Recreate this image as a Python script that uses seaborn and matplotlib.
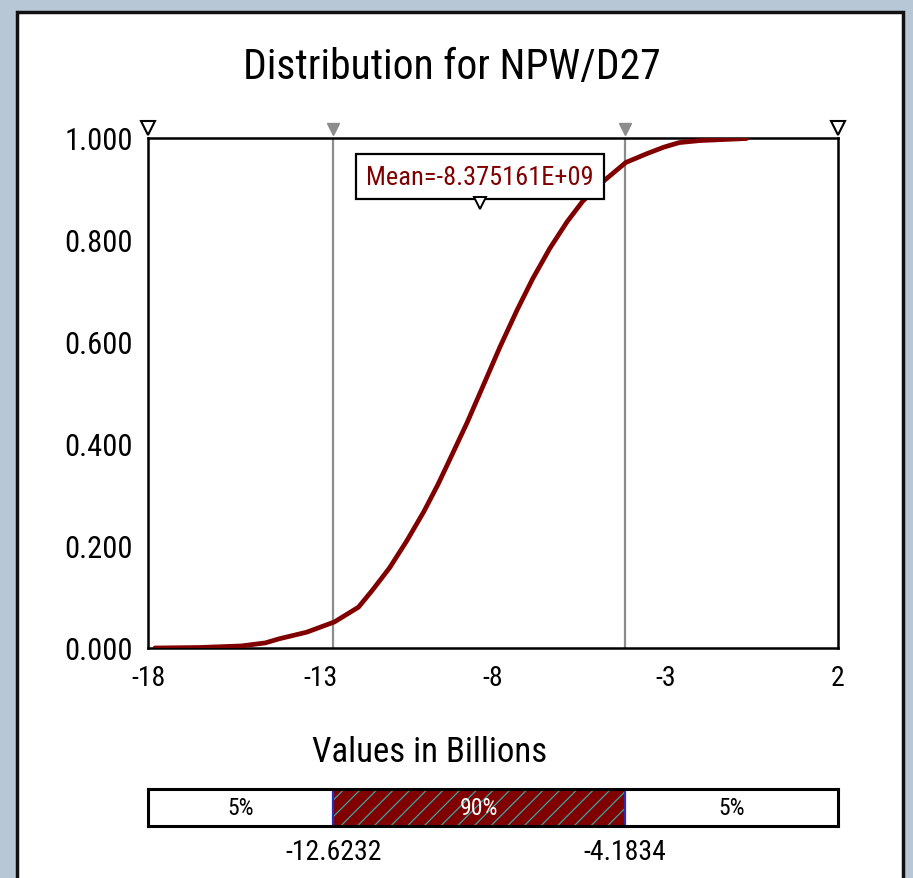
import matplotlib
matplotlib.use("Agg")
import matplotlib.pyplot as plt
from matplotlib import font_manager as fm
from matplotlib.patches import Rectangle
import pandas as pd
import seaborn as sns

# Cumulative distribution of NPW/D27 (values in billions)
npw_values = [-17.8, -16.5, -15.3, -14.6, -14.2, -13.4, -12.6, -11.9, -11.5, -11.0,
              -10.5, -10.0, -9.6, -9.25, -8.75, -8.3, -7.8, -7.3, -6.85, -6.35,
              -5.85, -5.4, -4.75, -4.15, -3.55, -3.05, -2.6, -2.0, -0.65]
cum_prob = [0.000, 0.001, 0.004, 0.010, 0.018, 0.031, 0.051, 0.080, 0.113, 0.157,
            0.210, 0.268, 0.320, 0.370, 0.442, 0.512, 0.590, 0.663, 0.724, 0.784,
            0.836, 0.876, 0.918, 0.952, 0.969, 0.982, 0.991, 0.995, 0.999]

mean_value = -8.375161            # billions
mean_label = "Mean=-8.375161E+09"
p5, p95 = -12.6232, -4.1834
band_pcts = [5, 90, 5]
x_range = [-18, 2]
x_ticks = [-18, -13, -8, -3, 2]
y_ticks = [0.0, 0.2, 0.4, 0.6, 0.8, 1.0]

title = "Distribution for NPW/D27"
x_title = "Values in Billions"

sns.set_style("white")


def pick_narrow_font():
    """Return (family, stretch, found) for the narrowest sans face available."""
    entries = fm.fontManager.ttflist
    prefs = ["Liberation Sans Narrow", "Roboto Condensed", "Open Sans Condensed",
             "DejaVu Sans Condensed", "Noto Sans Condensed", "Arial Narrow"]
    for p in prefs:
        for e in entries:
            if e.name == p and e.style == "normal":
                return e.name, e.stretch, True
    for e in entries:
        st = str(e.stretch)
        if e.style == "normal" and ("condensed" in st or st in ("75", "62.5", "87.5", "50")):
            if "Sans" in e.name or "Roboto" in e.name or "Lato" in e.name:
                return e.name, e.stretch, True
    return "Liberation Sans", "normal", False


family, stretch, narrow = pick_narrow_font()
plt.rcParams["font.family"] = [family, "DejaVu Sans"]
plt.rcParams["font.stretch"] = stretch
plt.rcParams["text.color"] = "black"
plt.rcParams["xtick.color"] = "black"
plt.rcParams["ytick.color"] = "black"
plt.rcParams["hatch.linewidth"] = 0.9
k = 1.0 if narrow else 0.86   # shrink sizes when only a normal-width face exists

DARK_RED = "#800000"
W, H = 913, 879
fig = plt.figure(figsize=(W / 100, H / 100), dpi=100)
fig.patch.set_facecolor("#b8c7d6")

# white panel with dark frame
fig.add_artist(Rectangle((17 / W, -0.02), (903 - 17) / W, (879 - 13) / H + 0.02,
                         transform=fig.transFigure, facecolor="white",
                         edgecolor="#111111", lw=2.5, zorder=0))

ax = fig.add_axes([148 / W, (H - 649) / H, 690 / W, 510 / H])
ax.set_facecolor("white")
df = pd.DataFrame({"x": npw_values, "p": cum_prob})
sns.lineplot(data=df, x="x", y="p", ax=ax, color=DARK_RED, lw=3.4, zorder=3)

ax.set_xlim(*x_range)
ax.set_ylim(0, 1)
ax.set_xticks(x_ticks)
ax.set_xticklabels([str(t) for t in x_ticks], fontsize=20 * k)
ax.set_yticks(y_ticks)
ax.set_yticklabels([f"{t:.3f}" for t in y_ticks], fontsize=22 * k)
ax.tick_params(axis="x", direction="inout", length=13, width=1.6, pad=5, colors="black")
ax.tick_params(axis="y", length=0, pad=11, colors="black")
ax.set_xlabel("")
ax.set_ylabel("")
for s in ax.spines.values():
    s.set_color("black")
    s.set_linewidth(1.8)

# 5% / 95% markers
ax.vlines([p5, p95], 0, 1, color="#8c8c8c", lw=1.6, zorder=2)
ax.plot([p5, p95], [1.018, 1.018], ls="none", marker="v", ms=8,
        mfc="#8c8c8c", mec="#8c8c8c", clip_on=False, zorder=4)
ax.plot(x_range, [1.02, 1.02], ls="none", marker="v", ms=10,
        mfc="white", mec="black", mew=1.5, clip_on=False, zorder=4)

# mean annotation
ax.text(mean_value, 0.924, mean_label, ha="center", va="center", fontsize=19 * k,
        color=DARK_RED, zorder=5,
        bbox=dict(boxstyle="square,pad=0.4", fc="white", ec="black", lw=1.6))
ax.plot([mean_value], [0.872], ls="none", marker="v", ms=9,
        mfc="white", mec="black", mew=1.4, zorder=6)

fig.text(452 / W, (H - 68) / H, title, ha="center", va="center", fontsize=30 * k)
fig.text(430 / W, (H - 753) / H, x_title, ha="center", va="center", fontsize=25 * k)

# percentile band
bax = fig.add_axes([148 / W, (H - 827) / H, 690 / W, 37 / H])
bax.set_xlim(*x_range)
bax.set_ylim(0, 1)
edges = [x_range[0], p5, p95, x_range[1]]
fills = ["white", DARK_RED, "white"]
hatches = [None, "//", None]
for i in range(3):
    bax.barh(0.5, edges[i + 1] - edges[i], left=edges[i], height=1.0,
             color=fills[i], hatch=hatches[i], edgecolor="#3aa6a6", lw=0)
    mid = (edges[i] + edges[i + 1]) / 2
    bax.text(mid, 0.5, f"{band_pcts[i]}%", ha="center", va="center", fontsize=17 * k,
             color="white" if i == 1 else "black")
bax.vlines([p5, p95], 0, 1, color="#2a2ab8", lw=1.6)
bax.set_xticks([])
bax.set_yticks([])
for s in bax.spines.values():
    s.set_color("black")
    s.set_linewidth(2.2)
for v in (p5, p95):
    bax.text(v, -0.32, f"{v:.4f}", ha="center", va="top", fontsize=20 * k,
             clip_on=False)

fig.savefig("out.png", dpi=100, facecolor=fig.get_facecolor())
